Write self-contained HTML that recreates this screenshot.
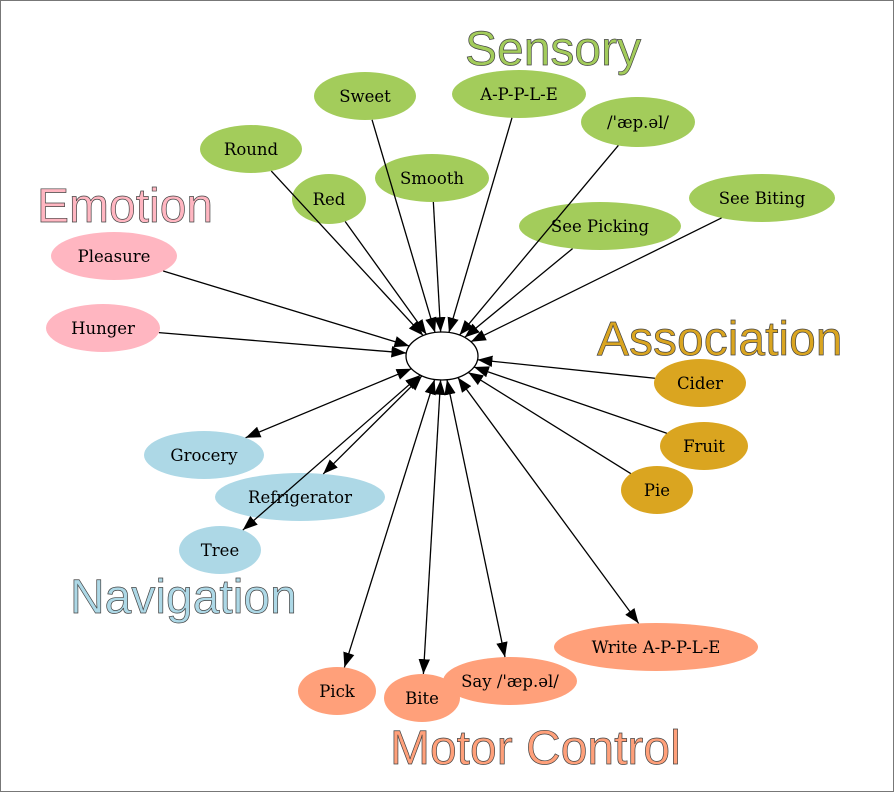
<!DOCTYPE html>
<html><head><meta charset="utf-8"><style>
html,body{margin:0;padding:0;background:#fff}
svg{display:block}
.n{font-family:"DejaVu Serif","Liberation Serif",serif;font-size:16.5px;fill:#000}
.t{font-family:"Liberation Sans",sans-serif;font-size:48px;stroke:#444;stroke-width:0.7}
</style></head><body>
<svg id="s" width="894" height="792" viewBox="0 0 894 792" xmlns="http://www.w3.org/2000/svg">
<defs>
<marker id="a" markerUnits="userSpaceOnUse" markerWidth="16" markerHeight="12" refX="13" refY="5" orient="auto-start-reverse" viewBox="0 0 14 10"><path d="M0,0 L13,5 L0,10 z" fill="#000"/></marker>
</defs>
<rect x="0.5" y="0.5" width="893" height="791" fill="#fff" stroke="#777" stroke-width="1"/>
<g id="nodes"></g>
<g id="edges"></g>
<g id="labels"></g>
<ellipse cx="442" cy="356" rx="36" ry="24" fill="#fff" stroke="#000" stroke-width="1.3"/>
<text class="t" x="465" y="65" fill="#a3cc5b">Sensory</text>
<text class="t" x="37" y="222" fill="#ffb6c1">Emotion</text>
<text class="t" x="597" y="355" fill="#daa520">Association</text>
<text class="t" x="70" y="613" fill="#add8e6">Navigation</text>
<text class="t" x="390" y="764" fill="#ffa07a">Motor Control</text>
</svg>
<script>
var G='#a3cc5b',P='#ffb6c1',A='#daa520',B='#add8e6',O='#ffa07a';
var N=[
['Sweet',365,96,51,24,G,0],['A-P-P-L-E',519,94,67,24,G,0],["/'\u00e6p.\u0259l/",638,122,57,25,G,0],
['Round',251,149,51,24,G,0],['Red',329,199,37,25,G,0],['Smooth',432,178,57,24,G,0],
['See Picking',600,226,81,24,G,0],['See Biting',762,198,73,24,G,0],
['Pleasure',114,256,63,24,P,0],['Hunger',103,328,57,24,P,0],
['Cider',700,383,46,24,A,0],['Fruit',704,446,44,24,A,0],['Pie',657,490,36,24,A,0],
['Grocery',204,455,60,24,B,1],['Refrigerator',300,497,85,24,B,1],['Tree',220,550,41,24,B,1],
['Write A-P-P-L-E',656,647,102,24,O,1],["Say /'\u00e6p.\u0259l/",510,681,67,24,O,1],
['Pick',337,691,39,24,O,1],['Bite',422,698,38,24,O,1]
];
var ns='http://www.w3.org/2000/svg',E=document.getElementById('edges'),ND=document.getElementById('nodes'),LB=document.getElementById('labels');
var C=[442,356,36,24];
function pt(cx,cy,rx,ry,dx,dy){var t=1/Math.sqrt((dx/rx)*(dx/rx)+(dy/ry)*(dy/ry));return[cx+dx*t,cy+dy*t];}
N.forEach(function(n){
 var dx=C[0]-n[1],dy=C[1]-n[2],L=Math.hypot(dx,dy);dx/=L;dy/=L;
 var s=pt(n[1],n[2],n[3],n[4],dx,dy),e=pt(C[0],C[1],C[2],C[3],-dx,-dy);
 var l=document.createElementNS(ns,'line');
 l.setAttribute('x1',s[0]);l.setAttribute('y1',s[1]);l.setAttribute('x2',e[0]);l.setAttribute('y2',e[1]);
 l.setAttribute('stroke','#000');l.setAttribute('stroke-width','1.3');
 l.setAttribute('marker-end','url(#a)');if(n[6])l.setAttribute('marker-start','url(#a)');
 E.appendChild(l);
});
N.forEach(function(n){
 var el=document.createElementNS(ns,'ellipse');
 el.setAttribute('cx',n[1]);el.setAttribute('cy',n[2]);el.setAttribute('rx',n[3]);el.setAttribute('ry',n[4]);el.setAttribute('fill',n[5]);
 ND.appendChild(el);
 var t=document.createElementNS(ns,'text');t.setAttribute('class','n');
 t.setAttribute('x',n[1]);t.setAttribute('y',n[2]+6);t.setAttribute('text-anchor','middle');t.textContent=n[0];
 LB.appendChild(t);
});
</script>
</body></html>
